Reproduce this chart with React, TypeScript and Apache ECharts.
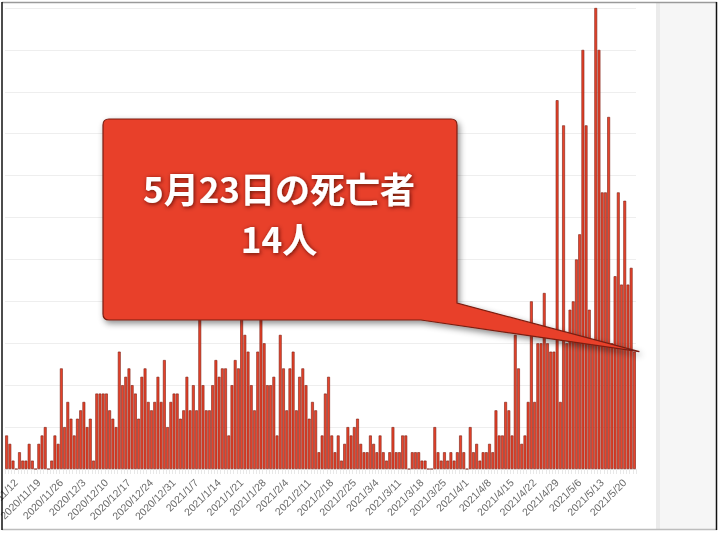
import { useEffect, useRef } from 'react'
import * as echarts from 'echarts'

// 日別の死亡者数 (2020/11/9 〜 2021/5/23)
const novDeaths = [4, 3, 1, 0, 2, 1, 1, 3, 1, 0, 3, 4, 5, 0, 1, 4, 3, 12, 5, 8, 6, 4]
const decDeaths = [
  6, 7, 8, 5, 6, 1, 9, 9, 9, 9, 7, 6, 5, 14, 10, 11, 12, 10, 9, 6, 11, 12, 8, 7, 8, 11, 8, 13, 5, 8, 9,
]
const janDeaths = [
  9, 6, 7, 11, 7, 10, 7, 20, 10, 7, 7, 10, 13, 11, 12, 12, 4, 10, 13, 12, 19, 16, 14, 10, 7, 14, 21, 15, 10, 10, 11,
]
const febDeaths = [4, 16, 12, 7, 12, 14, 7, 11, 12, 10, 6, 8, 7, 2, 4, 9, 11, 4, 2, 4, 1, 3, 5, 4, 5, 6, 3, 2]
const marDeaths = [
  2, 4, 3, 2, 4, 2, 1, 2, 5, 2, 2, 4, 4, 0, 2, 2, 2, 1, 1, 0, 0, 5, 2, 1, 2, 1, 2, 1, 2, 4, 2,
]
const aprDeaths = [
  0, 5, 2, 3, 1, 2, 2, 3, 2, 7, 4, 4, 8, 7, 4, 16, 12, 3, 4, 8, 20, 8, 15, 15, 21, 15, 14, 14, 44, 8,
]
const mayDeaths = [41, 15, 19, 20, 25, 28, 50, 41, 19, 15, 55, 50, 33, 33, 42, 15, 23, 33, 22, 32, 22, 24, 14]

const deaths = [...novDeaths, ...decDeaths, ...janDeaths, ...febDeaths, ...marDeaths, ...aprDeaths, ...mayDeaths]

// カテゴリ: 2020/11/9 から1日ずつ
const dates = deaths.map((_, i) => {
  const d = new Date(2020, 10, 9 + i)
  return `${d.getFullYear()}/${d.getMonth() + 1}/${d.getDate()}`
})

// 週ごとのラベル (2020/11/12 起点)
const labelOffset = 3
const calloutLines = ['5月23日の死亡者', '14人']

echarts.graphic.registerShape(
  'callout',
  echarts.graphic.extendShape({
    shape: { x0: 0, y0: 0, x1: 0, y1: 0, r: 6, baseTop: 0, baseLeft: 0, tipX: 0, tipY: 0 },
    buildPath(ctx: any, s: any) {
      ctx.moveTo(s.x0 + s.r, s.y0)
      ctx.lineTo(s.x1 - s.r, s.y0)
      ctx.quadraticCurveTo(s.x1, s.y0, s.x1, s.y0 + s.r)
      ctx.lineTo(s.x1, s.baseTop)
      ctx.lineTo(s.tipX, s.tipY)
      ctx.lineTo(s.baseLeft, s.y1)
      ctx.lineTo(s.x0 + s.r, s.y1)
      ctx.quadraticCurveTo(s.x0, s.y1, s.x0, s.y1 - s.r)
      ctx.lineTo(s.x0, s.y0 + s.r)
      ctx.quadraticCurveTo(s.x0, s.y0, s.x0 + s.r, s.y0)
      ctx.closePath()
    },
  }) as any
)

export default function App() {
  const ref = useRef<HTMLDivElement>(null)

  useEffect(() => {
    if (!ref.current) return
    const chart = echarts.init(ref.current, undefined, { renderer: 'svg' })
    chart.setOption({
      animation: false,
      grid: { left: 5, right: 84, top: 8, bottom: 64, outerBoundsMode: 'none' },
      xAxis: {
        type: 'category',
        data: dates,
        axisLine: { show: true, lineStyle: { color: '#e4e4e4' } },
        axisTick: { show: true, interval: 0, length: 5, lineStyle: { color: '#e8e8e8' } },
        axisLabel: {
          interval: (i: number) => i % 7 === labelOffset,
          rotate: 45,
          fontSize: 10.5,
          color: '#6a6a6a',
          margin: 12,
          fontFamily: 'Liberation Sans, Arial, sans-serif',
        },
      },
      yAxis: {
        type: 'value',
        min: 0,
        max: 55,
        interval: 5,
        axisLabel: { show: false },
        axisLine: { show: false },
        axisTick: { show: false },
        splitLine: { lineStyle: { color: '#eeeeee' } },
      },
      series: [
        {
          type: 'bar',
          data: deaths,
          barCategoryGap: '12%',
          itemStyle: { color: '#e8432b', borderColor: '#7a1e12', borderWidth: 0.6 },
        },
      ],
    })

    const last = deaths.length - 1
    const [px, py] = chart.convertToPixel({ seriesIndex: 0 }, [last, deaths[last]]) as number[]

    chart.setOption({
      graphic: [
        // 右側のグレーのパネル
        { type: 'rect', shape: { x: 657, y: 3, width: 59, height: 527 }, style: { fill: '#f6f6f6' }, z: 50 },
        { type: 'rect', shape: { x: 656, y: 3, width: 4, height: 527 }, style: { fill: '#ebebeb' }, z: 50 },
        // 枠線
        { type: 'line', shape: { x1: 2, y1: 2.5, x2: 717, y2: 2.5 }, style: { stroke: '#9a9a9a', lineWidth: 1.5 }, z: 60 },
        { type: 'line', shape: { x1: 2, y1: 529.5, x2: 717, y2: 529.5 }, style: { stroke: '#bdbdbd', lineWidth: 1.5 }, z: 60 },
        { type: 'line', shape: { x1: 2, y1: 2, x2: 2, y2: 530 }, style: { stroke: '#111', lineWidth: 1.5 }, z: 60 },
        { type: 'line', shape: { x1: 716.5, y1: 2, x2: 716.5, y2: 530 }, style: { stroke: '#111', lineWidth: 1.5 }, z: 60 },
        // 吹き出し
        {
          type: 'callout',
          z: 100,
          shape: { x0: 103, y0: 119, x1: 457, y1: 320, r: 6, baseTop: 303, baseLeft: 421, tipX: px + 5, tipY: py },
          style: {
            fill: '#e8402a',
            stroke: '#7a1f12',
            lineWidth: 1.2,
            shadowBlur: 6,
            shadowColor: 'rgba(0,0,0,0.45)',
            shadowOffsetX: 2,
            shadowOffsetY: 3,
          },
        },
        ...calloutLines.map((t, i) => ({
          type: 'text',
          z: 101,
          x: 279,
          y: 187 + i * 50,
          style: {
            text: t,
            fill: '#ffffff',
            fontSize: 35,
            fontWeight: 'bold',
            fontFamily: '"Noto Sans CJK JP", sans-serif',
            align: 'center',
            verticalAlign: 'middle',
            textShadowColor: 'rgba(70,10,0,0.85)',
            textShadowBlur: 4,
            textShadowOffsetX: 1,
            textShadowOffsetY: 1,
          },
        })),
      ],
    })

    return () => chart.dispose()
  }, [])

  return <div ref={ref} style={{ position: 'fixed', left: 0, top: 0, width: 720, height: 533 }} />
}
